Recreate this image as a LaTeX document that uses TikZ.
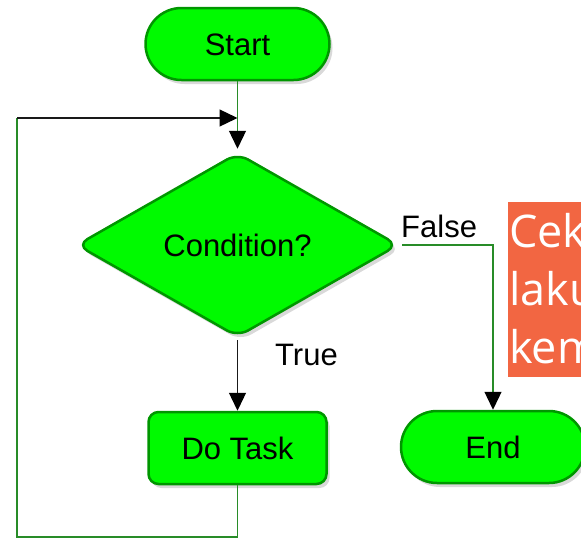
\documentclass[tikz,border=0pt]{standalone}
\usepackage{fontspec}
\setmainfont{Liberation Sans}
\newfontfamily\notefont{Open Sans}
\usetikzlibrary{shapes.geometric,shapes.misc,arrows.meta,shadows}
\definecolor{gfill}{RGB}{0,250,0}
\definecolor{gedge}{RGB}{0,150,0}
\definecolor{gline}{RGB}{40,140,40}
\definecolor{dline}{RGB}{25,25,25}
\definecolor{notebg}{RGB}{242,102,66}
\tikzset{
  box/.style={fill=gfill, draw=gedge, line width=2.5pt,
    font=\fontsize{31}{37}\selectfont, text height=22pt, text depth=0pt, inner sep=0pt,
    drop shadow={opacity=0.3, shadow xshift=3pt, shadow yshift=-4pt}},
  term/.style={box, rounded rectangle, minimum width=184pt, minimum height=72pt},
  proc/.style={box, rectangle, rounded corners=10pt, minimum width=178pt, minimum height=72pt},
  decide/.style={box, diamond, minimum width=322pt, minimum height=184pt, rounded corners=12pt},
  gl/.style={draw=gline, line width=1.3pt},
  dl/.style={draw=dline, line width=1.3pt},
  tip/.style={-{Triangle[width=17pt,length=18pt,color=black]}},
  lbl/.style={font=\fontsize{31}{37}\selectfont, anchor=base west, inner sep=0pt},
  notetext/.style={font=\notefont\fontsize{45}{58}\selectfont, text=white, anchor=base west, inner sep=0pt}
}
\begin{document}
\begin{tikzpicture}[x=1pt,y=-1pt]
\useasboundingbox (0,0) rectangle (581,539);
\clip (0,0) rectangle (581,539);
\node[term] (start) at (237.5,44) {Start};
\node[decide] (cond) at (237.5,245) {Condition?};
\node[proc] (task) at (237.5,448) {Do Task};
\node[term] (end) at (493,447) {End};
\coordinate (lbl0) at (17,537);
\coordinate (ltl) at (17,118);
\coordinate (lj) at (237.5,118);
\coordinate (fs) at (402,245);
\draw[gl,tip] (start.south) -- ([yshift=3pt]cond.north);
\draw[gl] (task.south) |- (lbl0) -- (ltl);
\draw[dl,tip] (ltl) -- (lj);
\draw[dl,tip] ([yshift=-2pt]cond.south) -- (task.north);
\draw[gl,tip] (fs) -| (end.north);
\node[lbl] (truel) at (275,365) {True};
\node[lbl] (falsel) at (401,237) {False};
\fill[notebg] (508,202) rectangle (590,377);
\node[notetext] (n1) at (509,247) {Cek};
\node[notetext] (n2) at (509,305) {laku};
\node[notetext] (n3) at (509,363) {kem};
\end{tikzpicture}
\end{document}
